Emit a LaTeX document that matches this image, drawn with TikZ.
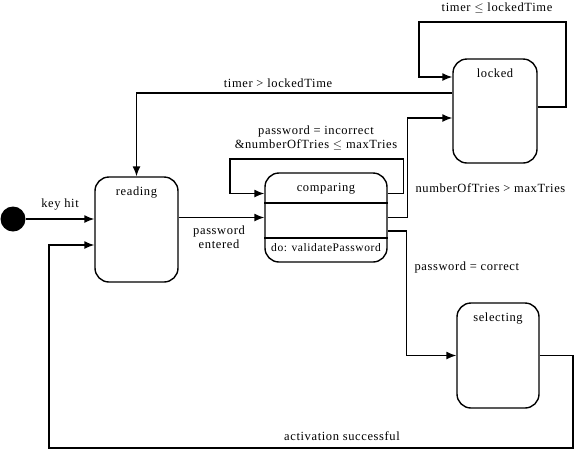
\documentclass[tikz,border=0pt]{standalone}
\usepackage{fontspec}
\setmainfont[LetterSpace=5]{Liberation Serif}
\usetikzlibrary{arrows.meta}

\begin{document}
\begin{tikzpicture}[
x=1pt,y=-1pt,
font=\fontsize{12.5}{14.5}\selectfont,
state/.style={
  draw,
  line width=1.4pt,
  rounded corners=14pt,
  minimum width=83pt,
  minimum height=105pt
  },
statename/.style={anchor=north,yshift=-7pt},
trans/.style={line width=1.4pt,-{Latex[length=10pt,width=8pt]}},
line/.style={line width=1.4pt}
]
\useasboundingbox (0,0) rectangle (576,451);
% states
\node[circle,fill=black,minimum size=25pt,inner sep=0pt] (init) at (13,219) {};
\node[state,label={[statename]north:reading}] (reading) at (136.5,229.5) {};
\node[state,minimum width=122pt,minimum height=89pt,label={[statename]north:comparing}] (comparing) at (326,217.5) {};
\node[state,minimum width=84pt,minimum height=104pt,label={[statename]north:locked}] (locked) at (495,111) {};
\node[state,minimum width=82pt,label={[statename]north:selecting}] (selecting) at (498,355.5) {};
% compartments of comparing
\draw[line] (comparing.west |- 0,203) -- (comparing.east |- 0,203);
\draw[line] (comparing.west |- 0,238) -- (comparing.east |- 0,238);
\node[font=\fontsize{11.5}{13}\selectfont] (activity) at (326,248) {do: validatePassword};
% transitions
\draw[trans] (init.east) -- (init -| reading.west);
\node (keyhit) at (60,205) {key hit};
\draw[trans] (reading.east |- comparing) -- (comparing.west);
\node[align=center] (entered) at (219,237) {password\\entered};
\draw[trans] ([yshift=24pt]comparing.east) -- ++(16,0) |- (230,159) |- ([yshift=24pt]comparing.west);
\node[align=center] (incorrect) at (316,138) {password = incorrect\\\&numberOfTries $\leq$ maxTries};
\draw[trans] (comparing.east) -- ++(20,0) |- ([yshift=-7pt]locked.west);
\node[anchor=west] (toomany) at (412,188) {numberOfTries > maxTries};
\draw[trans] ([yshift=-13.5pt]comparing.east) -- ++(19,0) |- (selecting.west);
\node[anchor=west] (correct) at (411,267) {password = correct};
\draw[trans] ([yshift=4pt]locked.east) -- (566,107) -- (566,22) -| (419,77) -- ([yshift=34pt]locked.west);
\node (waiting) at (497,8) {timer $\leq$ lockedTime};
\draw[trans] ([yshift=18pt]locked.west) -| (reading.north);
\node (unlock) at (278,83) {timer > lockedTime};
\draw[trans] (selecting.east) -| (573,448) -| (49,245) -- ([yshift=-15.5pt]reading.west);
\node (success) at (342,436) {activation successful};
\end{tikzpicture}
\end{document}
